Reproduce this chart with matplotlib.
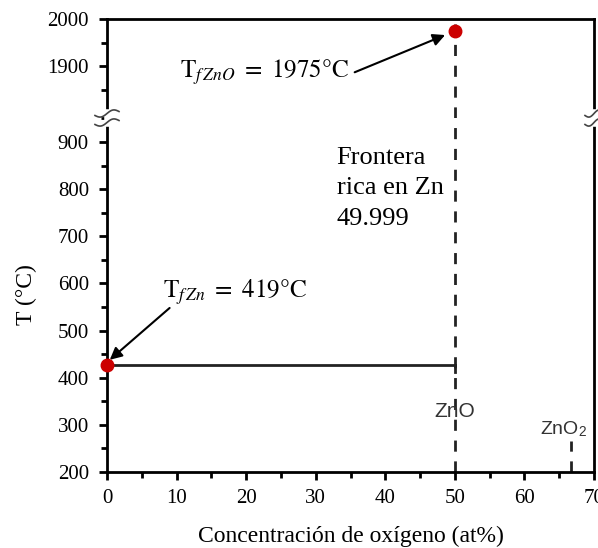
import numpy as np
import matplotlib.pyplot as plt
from matplotlib.lines import Line2D

plt.rcParams['font.family'] = ['Liberation Serif', 'DejaVu Serif']
plt.rcParams['mathtext.fontset'] = 'stix'

# data
x_zn, t_zn = 0, 428          # Zn melting point marker
x_zno, t_zno = 50, 1975      # ZnO melting point marker
x_zno2 = 66.7
t_top_dash = 265             # top of ZnO2 dashed line
x_ticks = [0, 10, 20, 30, 40, 50, 60, 70]
y_low_ticks = [200, 300, 400, 500, 600, 700, 800, 900]
y_high_ticks = [1900, 2000]

fig = plt.figure(figsize=(5.98, 5.48), dpi=100)
L, R, B, T = 107 / 598, 594 / 598, 1 - 472 / 548, 1 - 19 / 548
brk = 1 - 118 / 548
ax_hi = fig.add_axes([L, brk, R - L, T - brk])
ax_lo = fig.add_axes([L, B, R - L, brk - B])

for ax in (ax_hi, ax_lo):
    ax.set_xlim(0, 70)
    for s in ax.spines.values():
        s.set_linewidth(2)
    ax.tick_params(axis='y', which='both', direction='out', width=2, labelsize=15,
                   right=False, pad=7)
    ax.tick_params(axis='y', which='major', length=6)
    ax.tick_params(axis='y', which='minor', length=4)

ax_hi.set_ylim(1790, 2000)
ax_hi.set_yticks(y_high_ticks)
ax_hi.set_yticks([1850, 1950], minor=True)
ax_hi.spines['bottom'].set_visible(False)
ax_hi.set_xticks([])

ax_lo.set_ylim(200, 951)
ax_lo.set_yticks(y_low_ticks)
ax_lo.set_yticks(np.arange(250, 951, 100), minor=True)
ax_lo.spines['top'].set_visible(False)
ax_lo.set_xticks(x_ticks)
ax_lo.set_xticks(np.arange(5, 70, 10), minor=True)
ax_lo.tick_params(axis='x', which='both', direction='out', width=2, labelsize=15, pad=6)
ax_lo.tick_params(axis='x', which='major', length=6)
ax_lo.tick_params(axis='x', which='minor', length=4)

# phase lines
ax_lo.plot([x_zn, x_zno], [t_zn, t_zn], color='#222222', lw=2)
ax_lo.plot([x_zno, x_zno], [t_zn, t_zn - 15], color='#222222', lw=2)
ax_lo.plot([x_zno, x_zno], [200, 951], color='#222222', lw=2, ls=(0, (4, 3.5)))
ax_hi.plot([x_zno, x_zno], [1790, 1990], color='#222222', lw=2, ls=(0, (4, 3.5)))
ax_lo.plot([x_zno2, x_zno2], [200, t_top_dash], color='#222222', lw=2, ls=(0, (4, 3.5)))

# markers
ax_lo.plot([x_zn], [t_zn], 'o', color='#cc0000', ms=9, clip_on=False, zorder=5)
ax_hi.plot([x_zno], [t_zno], 'o', color='#cc0000', ms=9, clip_on=False, zorder=5)

# labels
ax_lo.text(x_zno, 328, 'ZnO', family='Liberation Sans', fontsize=15, color='#333333',
           ha='center', va='center')
ax_lo.text(65.6, 290, r'ZnO$_\mathregular{2}$', family='Liberation Sans', fontsize=14,
           color='#333333', ha='center', va='center')
ax_lo.text(33, 890, 'Frontera\nrica en Zn\n49.999', fontsize=19, va='top', ha='left',
           linespacing=1.5)

ax_lo.text(8.0, 582, r'$\mathrm{T}_{f\,Zn}\ =\ 419°\mathrm{C}$', fontsize=18, va='center', ha='left')
ax_lo.annotate('', xy=(0.4, 438), xytext=(9.0, 548),
               arrowprops=dict(arrowstyle='-|>', color='black', lw=1.5,
                               mutation_scale=18, shrinkA=0, shrinkB=0))
ax_hi.text(10.5, 1887, r'$\mathrm{T}_{f\,ZnO}\ =\ 1975°\mathrm{C}$', fontsize=18,
           va='center', ha='left')
ax_hi.annotate('', xy=(48.6, 1966), xytext=(35.6, 1887),
               arrowprops=dict(arrowstyle='-|>', color='black', lw=1.5,
                               mutation_scale=18, shrinkA=0, shrinkB=0))

ax_lo.set_xlabel('Concentración de oxígeno (at%)', fontsize=17, labelpad=13)
fig.text(0.045, 1 - 295 / 548, 'T (°C)', rotation=90, fontsize=17, va='center', ha='center')

# axis break marks
t = np.linspace(-1, 1, 40)
for xb in (L, R):
    w = 12 if xb == L else 9
    fig.add_artist(Line2D([xb, xb], [brk - 6 / 548, brk + 6 / 548], color='white', lw=4))
    for off in (-4.5, 4.5):
        xs = xb + (t * w) / 598
        yy = brk + (2.5 * np.sin(np.pi * t) + t * 2 + off) / 548
        fig.add_artist(Line2D(xs, yy, color='#444444', lw=1.2))

fig.savefig('out.png', dpi=100)
